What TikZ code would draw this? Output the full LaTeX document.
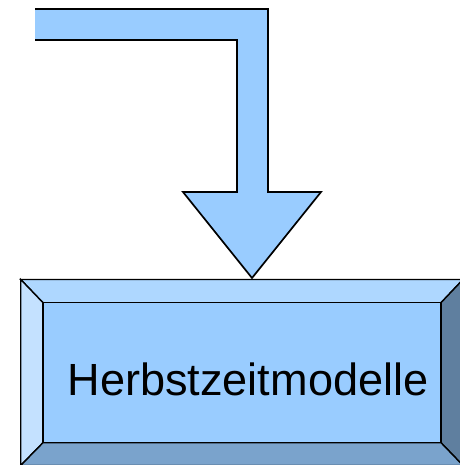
\documentclass[tikz,border=0pt]{standalone}
\usepackage{fontspec}
\setmainfont{Liberation Sans}
\definecolor{arrowfill}{HTML}{99CCFF}
\definecolor{facefill}{HTML}{99CCFF}
\definecolor{topbevel}{HTML}{AED7FF}
\definecolor{leftbevel}{HTML}{C4E1FF}
\definecolor{bottombevel}{HTML}{7AA3CC}
\definecolor{rightbevel}{HTML}{5F7F9F}
\begin{document}
\begin{tikzpicture}[x=1pt,y=-1pt,
  edge/.style={draw=black,line width=1.7pt,line join=miter},
  bevel/.style={draw=black,line width=1.4pt,line join=miter}]
\useasboundingbox (0,0) rectangle (459,465);
% bent arrow
\fill[arrowfill] (35,9) -- (268,9) -- (268,192) -- (321,192) -- (252,278) -- (183,192) -- (237,192) -- (237,40) -- (35,40) -- cycle;
\draw[edge] (35,9) -- (268,9) -- (268,192) -- (321,192) -- (252,278) -- (183,192) -- (237,192) -- (237,40) -- (35,40);
% beveled box
\coordinate (o1) at (20.7,279.5);
\coordinate (o2) at (463,279.5);
\coordinate (o3) at (463,465.5);
\coordinate (o4) at (20.7,465.5);
\coordinate (i1) at (43,302.7);
\coordinate (i2) at (441,302.7);
\coordinate (i3) at (441,442.7);
\coordinate (i4) at (43,442.7);
\filldraw[bevel,fill=topbevel] (o1) -- (o2) -- (i2) -- (i1) -- cycle;
\filldraw[bevel,fill=leftbevel] (o1) -- (i1) -- (i4) -- (o4) -- cycle;
\filldraw[bevel,fill=rightbevel] (o2) -- (o3) -- (i3) -- (i2) -- cycle;
\filldraw[bevel,fill=bottombevel] (o4) -- (i4) -- (i3) -- (o3) -- cycle;
\filldraw[bevel,fill=facefill] (i1) rectangle (i3);
\node[anchor=base,inner sep=0pt,font=\fontsize{45.1}{50}\selectfont] (label) at (248,395) {Herbstzeitmodelle};
\end{tikzpicture}
\end{document}
